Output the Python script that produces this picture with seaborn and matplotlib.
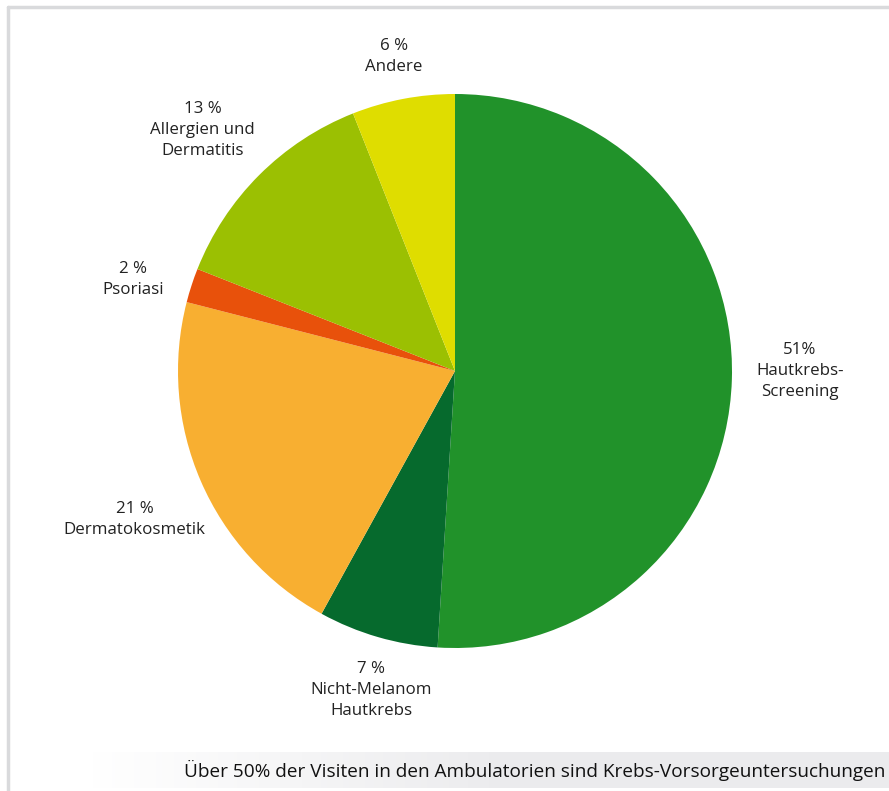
import numpy as np
import matplotlib.pyplot as plt
import seaborn as sns

# Anteil der Visiten nach Kategorie (im Uhrzeigersinn ab 12 Uhr)
categories = ["Hautkrebs-\nScreening", "Nicht-Melanom\nHautkrebs", "Dermatokosmetik",
              "Psoriasi", "Allergien und\nDermatitis", "Andere"]
shares = [51, 7, 21, 2, 13, 6]
share_labels = ["51%", "7 %", "21 %", "2 %", "13 %", "6 %"]
colors = ["#21922a", "#066a2d", "#f8af31", "#e8510b", "#9bc002", "#dfdd00"]
caption = "Über 50% der Visiten in den Ambulatorien sind Krebs-Vorsorgeuntersuchungen"

sns.set_theme(style="white")
plt.rcParams["font.family"] = ["Open Sans", "DejaVu Sans"]

W, H = 889, 791
fig = plt.figure(figsize=(W / 100, H / 100), dpi=100)

# pie axes: center (455, 371) px, radius 277 px
cx, cy, r = 455, 371, 277
ax = fig.add_axes([(cx - r) / W, (H - cy - r) / H, 2 * r / W, 2 * r / H])
palette = sns.color_palette(colors)
wedges, _ = ax.pie(shares, colors=palette, startangle=90, counterclock=False,
                   wedgeprops=dict(linewidth=0))
ax.set_xlim(-1, 1)
ax.set_ylim(-1, 1)
ax.set_aspect("equal")
ax.axis("off")

# label placement: distance from center (radii) and angle nudge (deg)
dists = [1.245, 1.19, 1.275, 1.208, 1.259, 1.155]
nudges = [1.8, 1.45, 1.4, 2.2, 1.3, 0.2]
for w, lab, pct, d, n in zip(wedges, categories, share_labels, dists, nudges):
    ang = np.deg2rad((w.theta1 + w.theta2) / 2 + n)
    ax.text(d * np.cos(ang), d * np.sin(ang), pct + "\n" + lab,
            ha="center", va="center", fontsize=12.2, color="#222222",
            linespacing=1.42)

# frame lines (top and left)
fig.add_artist(plt.Line2D([8 / W, 1], [1 - 7 / H, 1 - 7 / H], color="#d9dadc",
                          linewidth=2.5, transform=fig.transFigure))
fig.add_artist(plt.Line2D([8 / W, 8 / W], [0, 1 - 7 / H], color="#d9dadc",
                          linewidth=2.5, transform=fig.transFigure))

# caption bar with gradient
bar = fig.add_axes([90 / W, (H - 788) / H, (W - 90) / W, 36 / H])
grad = np.linspace(0, 1, 256).reshape(1, -1)
bar.imshow(grad, aspect="auto", cmap=sns.blend_palette(["#ffffff", "#ececee", "#ebebed"], as_cmap=True),
           extent=[0, 1, 0, 1])
bar.axis("off")
fig.text(885 / W, (H - 770) / H, caption, ha="right", va="center",
         fontsize=13.65, color="#111111")

fig.savefig("out.png", dpi=100)
